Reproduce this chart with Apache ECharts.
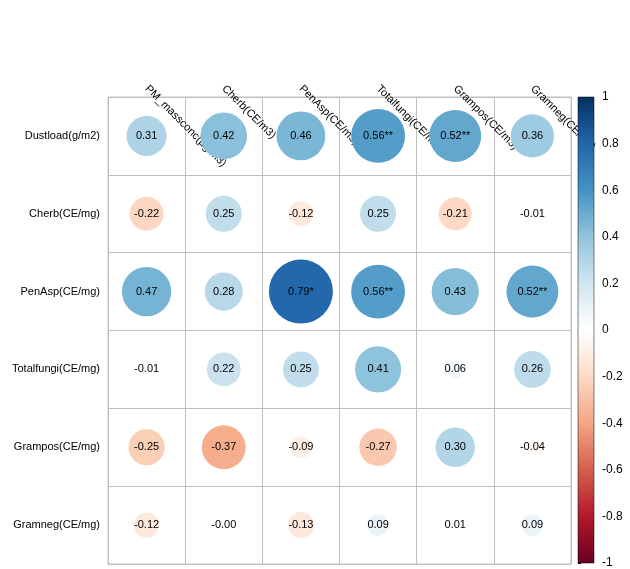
<!DOCTYPE html><html><head><meta charset="utf-8"><script src="https://cdn.jsdelivr.net/npm/echarts@6/dist/echarts.min.js"></script></head><body style="margin:0;background:#fff"><div id="c" style="width:630px;height:569px"></div><script>
const cols=["PM_massconc(µg/m3)","Cherb(CE/m3)","PenAsp(CE/m3)","Totalfungi(CE/m3)","Grampos(CE/m3)","Gramneg(CE/m3)"];
const rows=["Dustload(g/m2)","Cherb(CE/mg)","PenAsp(CE/mg)","Totalfungi(CE/mg)","Grampos(CE/mg)","Gramneg(CE/mg)"];
const values=[
[0.31,0.42,0.46,0.56,0.52,0.36],
[-0.22,0.25,-0.12,0.25,-0.21,-0.01],
[0.47,0.28,0.79,0.56,0.43,0.52],
[-0.01,0.22,0.25,0.41,0.06,0.26],
[-0.25,-0.37,-0.09,-0.27,0.30,-0.04],
[-0.12,-0.004,-0.13,0.09,0.01,0.09]];
const stars=[
["","","","**","**",""],["","","","","",""],["","","*","**","","**"],
["","","","","",""],["","","","","",""],["","","","","",""]];
const barTicks=[-1,-0.8,-0.6,-0.4,-0.2,0,0.2,0.4,0.6,0.8,1];
const pal=["#67001F","#B2182B","#D6604D","#F4A582","#FDDBC7","#FFFFFF","#D1E5F0","#92C5DE","#4393C3","#2166AC","#053061"];
const data=[];
values.forEach((r,i)=>r.forEach((v,j)=>data.push([j,i,v,stars[i][j]])));
const ch=echarts.init(document.getElementById('c'));
const gc="#c0c0c0";
ch.setOption({
animation:false,
grid:[{left:108,top:97,width:463,height:467,show:true,borderColor:gc,borderWidth:1},
{left:578,top:97,width:16,height:467,show:false}],
xAxis:[{type:'category',data:cols,position:'top',gridIndex:0,axisLine:{show:false},axisTick:{show:false},
 splitLine:{show:true,lineStyle:{color:gc}},axisLabel:{rotate:45,align:'left',verticalAlign:'middle',color:'#000',fontSize:11,fontFamily:'Arial, Liberation Sans',margin:10}},
{type:'value',gridIndex:1,show:false,min:0,max:1}],
yAxis:[{type:'category',data:rows,inverse:true,gridIndex:0,axisLine:{show:false},axisTick:{show:false},
 splitLine:{show:true,lineStyle:{color:gc}},axisLabel:{color:'#000',fontSize:11,fontFamily:'Arial, Liberation Sans',margin:8}},
{type:'value',gridIndex:1,min:-1,max:1,interval:0.2,position:'right',axisLine:{show:false},splitLine:{show:false},
 axisTick:{show:true,length:3,lineStyle:{color:'#000'}},
 axisLabel:{color:'#000',fontSize:12,fontFamily:'Arial, Liberation Sans',margin:8,formatter:v=>{const r=Math.round(v*10)/10;return barTicks.includes(r)?String(r):'';}}}],
visualMap:{show:false,min:-1,max:1,dimension:2,seriesIndex:0,inRange:{color:pal}},
series:[{type:'scatter',xAxisIndex:0,yAxisIndex:0,data:data,
 symbolSize:d=>Math.sqrt(Math.abs(d[2]))*72,
 itemStyle:{opacity:1},
 label:{show:true,position:'inside',color:'#000',fontSize:11,fontFamily:'Arial, Liberation Sans',formatter:p=>p.data[2].toFixed(2)+p.data[3]}},
{type:'custom',xAxisIndex:1,yAxisIndex:1,data:[[0]],renderItem:(params,api)=>{
 const p0=api.coord([0,1]),p1=api.coord([1,-1]);
 return {type:'rect',shape:{x:p0[0],y:p0[1],width:p1[0]-p0[0],height:p1[1]-p0[1]},
  style:{stroke:'#000',lineWidth:0.5,fill:new echarts.graphic.LinearGradient(0,0,0,1,pal.slice().reverse().map((c,i)=>({offset:i/10,color:c})))}};
}}]
});
</script></body></html>
